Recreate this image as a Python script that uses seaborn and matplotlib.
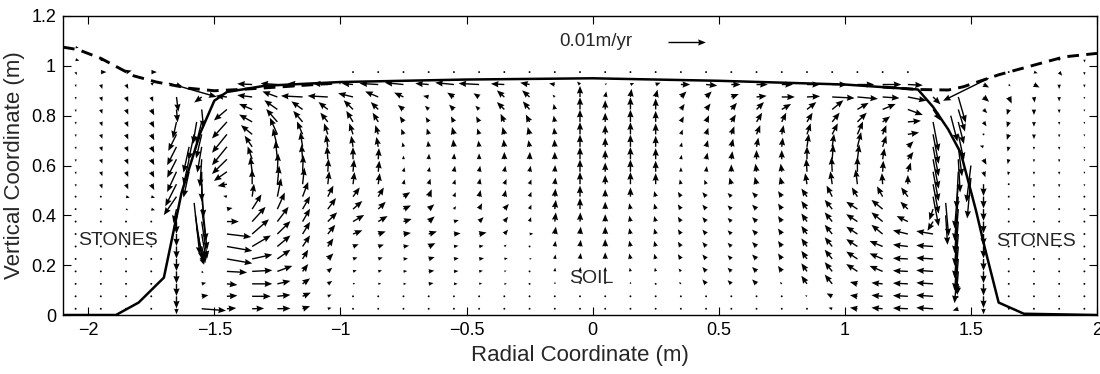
import numpy as np
import matplotlib
matplotlib.use("Agg")
import matplotlib.pyplot as plt
import seaborn as sns

# ---------------- data ----------------
X_NODES = [-2.05, -1.95, -1.85, -1.75, -1.65, -1.55, -1.45, -1.35, -1.25, -1.15, -1.05,
           -0.95, -0.85, -0.75, -0.65, -0.55, -0.45, -0.35, -0.25, -0.15, -0.05,
           0.05, 0.15, 0.25, 0.35, 0.45, 0.55, 0.65, 0.75, 0.85, 0.95,
           1.05, 1.15, 1.25, 1.35, 1.45, 1.55, 1.65, 1.75, 1.85, 1.95]
Y_NODES = [1.075, 1.025, 0.975, 0.925, 0.875, 0.825, 0.775, 0.725, 0.675, 0.625, 0.575,
           0.525, 0.475, 0.425, 0.375, 0.325, 0.275, 0.225, 0.175, 0.125, 0.075, 0.025]

# velocities in mm/yr, rows top -> bottom, left half (x = -2.05 ... -0.05)
U_LEFT = [
    [0.8, 0, 0, 0, 0, 0, 0, 0, 0, 0, 0, 0, 0, 0, 0, 0, 0, 0, 0, 0, 0],
    [1.0, 0.8, 0, 0, 0, 0, 0, 0, 0, 0, 0, 0, 0, 0, 0, 0, 0, 0, 0, 0, 0],
    [0.3, 1.5, 1.5, 1.5, 0, 0, 0, 0, 0, 0, 0, 0.2, 0.3, 0.3, 0.3, 0.3, 0.3, 0.3, 0.3, 0.2, 0.2],
    [0.1, 0.4, 0.6, 0.8, 1.5, 0, 0, -4, -4.5, -4, -4, -3, -5, -5, -3.6, -5, -5.5, -3.6, -2.5, -1.5, -0.8],
    [0.1, 0.4, 0.6, 0.5, 0.5, -2, -3, -4, -4, -5.8, -5.4, -4, -3.5, -2.5, -1.5, -1.8, -1.5, -2, -2, -0.6, 0],
    [0.1, 0.4, 0.6, 0.8, 0.3, 0.5, -3.5, -3.5, -3.5, -3, -2.5, -2.5, -2, -1.5, -1, -1.3, -1, -2, -1.8, -0.3, 0],
    [0.1, 0.4, 0.6, 0.8, -1, -1.5, -4, -3.5, -3, -2.5, -2, -1.8, -1.5, -1, -0.8, -0.8, -0.8, -1, -1, -0.3, 0],
    [0.1, 0.4, 0.6, 0.8, -2.2, -1.5, -4, -3, -2, -1.5, -1, -1, -0.8, -0.6, -0.5, -0.5, -0.5, -0.5, -0.5, -0.2, 0],
    [0.1, 0.4, 0.6, 0.8, -2.5, -1.2, -4, -2, -1.2, -0.6, -0.5, -0.5, -0.5, -0.3, -0.2, -0.2, -0.2, -0.2, -0.3, -0.1, 0],
    [0.1, 0.4, 0.6, 0.8, -2.5, -0.5, -4, -1.2, -0.5, -0.3, -0.2, 0, 0.2, 0, 0.1, 0.1, 0, 0, 0.1, 0, 0],
    [0.1, 0.4, 0.6, 0.8, -2.5, 0, -3.5, -0.5, 0.2, 0.2, 0.2, 0.3, 0.3, 0.3, 0.3, 0.3, 0.3, 0.3, 0.3, 0.1, 0],
    [0.1, 0.4, 0.6, 0.8, -3, 0.5, -2.5, 0, 0.5, 0.5, 0.4, 0.4, 0.4, 0.3, 0.5, 0.4, 0.3, 0.6, 0.5, 0.2, 0],
    [0.1, 0.1, 1, 1, -3.4, 1.2, -1, 0.5, 1, 1.5, 1.5, 1.8, 1.5, 1.8, 0.8, 0.5, 0.4, 0.4, 0.5, 0.2, 0],
    [0.1, 0.1, 0.6, 1, -0.8, 1.5, 1.5, 2.5, 2, 2, 2.2, 2.5, 2, 2, 1.5, 0.6, 0.8, 1.2, 0.5, 0.3, 0],
    [0.1, 0.1, 0.1, 0.5, 0, 1.5, 3.2, 3.6, 3, 2, 2.5, 3, 2.5, 2.2, 1.6, 1.3, 1.2, 1, 0.4, 0.3, 0.1],
    [0.1, 0.1, 0.1, 0.1, 0, 1.2, 6.5, 4.5, 3.5, 2, 2, 2.5, 2, 2, 2.2, 1.8, 2, 1, 1, 0.3, 0.2],
    [0.1, 0.1, 0.1, 0.1, 0, 1, 6.8, 5, 3.5, 2, 1.5, 1.5, 1.5, 1.5, 1.8, 1.2, 1.2, 0.6, 0.5, 0.2, 0.2],
    [0.1, 0.1, 0.1, 0.1, 0, 0.5, 6.8, 5.4, 3.5, 1.5, 1.5, 1.2, 1.2, 1.2, 1.6, 1.3, 1.3, 0.9, 0.6, 0.2, 0.2],
    [0.1, 0.1, 0.1, 0.1, 0, 0.5, 5.4, 5.4, 4, 1.5, 1.2, 1, 1, 1, 1.5, 1.2, 1, 0.6, 0.5, 0.1, 0.1],
    [0.1, 0.1, 0.1, 0.1, 0, 1.2, 2.8, 5.4, 3.5, 2, 1.2, 0.6, 0.8, 0.8, 1.3, 1, 0.8, 0.7, 0.4, 0.1, 0.05],
    [0.1, 0.1, 0.1, 0.1, 0, 1.8, 2.8, 5, 3.5, 2.2, 1, 0.5, 0.3, 0.5, 0.4, 0.4, 0.4, 0.3, 0.2, 0.1, 0],
    [0.1, 0.1, 0.1, 0.1, 0, 6.5, 2.5, 3.2, 3.5, 2, 1, 0.3, 0.2, 0.2, 0.2, 0.2, 0.2, 0.2, 0.2, 0.1, 0],
]
V_LEFT = [
    [-0.2, 0, 0, 0, 0, 0, 0, 0, 0, 0, 0, 0, 0, 0, 0, 0, 0, 0, 0, 0, 0],
    [-0.3, -0.4, 0, 0, 0, 0, 0, 0, 0, 0, 0, 0, 0, 0, 0, 0, 0, 0, 0, 0, 0],
    [-0.8, 0, 0.4, 0, 0, 0, 0, 0, 0, 0, 0, 0, 0, 0, 0, 0, 0, 0, 0, 0, -0.2],
    [-0.7, -1.2, -1.2, 0.6, -0.5, 0, 0, 0.2, 0.3, 0.3, 0.3, 0.3, 0.3, 0.5, 0.3, 0.5, 0.3, 0.2, 0.5, 0.3, 0.8],
    [-0.7, -1.2, -1.4, -1.3, -4, -1.5, 0.3, 0.5, 1.5, 0.3, 0.3, 1, 1.5, 1.2, 0.3, 1.2, 1, 1.8, 1.8, 0.6, 3],
    [-0.7, -1.2, -1.4, -1.6, -3.5, -5, -3, 1.5, 2.5, 2.2, 2, 2.5, 2, 1.2, 1, 1.3, 1, 2, 2.2, 1.5, 3.3],
    [-0.7, -1.2, -1.4, -1.6, -4.5, -6, -4.5, 2, 3.5, 3, 2.5, 3, 2.5, 1.5, 1.3, 1.5, 1.5, 2.2, 2, 1.7, 3.3],
    [-0.7, -1.2, -1.4, -1.6, -4.5, -6.5, -5, 2.5, 4.5, 3.5, 3, 3, 2.5, 1.5, 1.6, 2, 1.6, 2, 2, 1.8, 3.3],
    [-0.7, -1.2, -1.4, -1.6, -5, -7, -5, 3, 5, 4, 3.3, 3, 2.7, 1.2, 1.6, 2, 1.7, 2, 1.8, 2, 3.3],
    [-0.7, -1.2, -1.4, -1.6, -5, -7.5, -4, 3.5, 5, 4, 3.5, 3.3, 3, 1, 1.5, 1.6, 1.6, 2, 2, 2, 3.3],
    [-0.7, -1.2, -1.4, -1.6, -5.5, -8, -2.5, 4, 5, 4.5, 3.5, 3.3, 3, 1.2, 1.3, 1.6, 1.6, 1.6, 1.6, 1.8, 3.3],
    [-0.7, -1.2, -1.4, -1.6, -6, -9, -0.5, 4, 5, 4.5, 3.5, 3.3, 3, 1.3, 1.5, 1.3, 1.6, 1.4, 1.3, 1.8, 3.3],
    [-0.3, -0.3, -0.3, -0.3, -5, -12, 0.2, 3.5, 5, 4, 3, 2.5, 2.5, 1.2, 2, 1.2, 1.8, 1.8, 1.3, 2.2, 3],
    [-0.3, -0.3, -0.3, -0.3, -3.8, -11, 0.3, 4, 4.5, 3.5, 3, 2.2, 2, 1, 1.3, 0.8, 1.6, 1.4, 1.2, 2.5, 3],
    [-0.3, -0.3, -0.3, -0.2, -3.3, -10, 0, 4, 4, 3.5, 2.5, 1.8, 1.5, 0.7, 1.4, 0.4, 1.2, 1.3, 1.2, 2.5, 2.5],
    [-0.3, -0.3, -0.3, -0.2, -3.3, -7, -0.8, 4, 3.5, 3.3, 2.5, 1, 0.7, 0.3, 0.7, 0.2, 0.4, 1.2, 0.1, 2, 2],
    [-0.3, -0.3, -0.3, -0.2, -3.3, -4.5, -1.2, 3, 3, 3, 2.2, 0.6, 0.5, 0.2, 0.9, 0.2, 0.2, 0.5, 0.2, 1.5, 1.8],
    [-0.3, -0.3, -0.3, -0.2, -3.3, -1.5, -1.2, 1.2, 2.5, 2.5, 1.5, 0.4, 0.4, 0.1, 0.5, 0.2, 0.2, 0.2, 0.1, 1.2, 1.6],
    [-0.3, -0.3, -0.3, -0.2, -3.3, -0.5, -0.3, 0.3, 1.5, 2, 1, 0.3, 0.3, 0.1, 0.2, 0.1, 0.2, 0.2, 0.1, 1, 1.2],
    [-0.3, -0.3, -0.3, -0.2, -3.3, 0.3, -0.3, 0, 0.8, 1.5, 0.8, 0.2, 0.1, 0, 0.2, 0, 0.2, 0, 0, 0.6, 0.8],
    [-0.3, -0.3, -0.3, -0.2, -3.3, 0.3, 0.2, 0, 0.4, 1, 0.5, 0.1, 0, 0, 0, 0, 0, 0, 0, 0.3, 0.4],
    [-0.3, -0.3, -0.3, -0.2, -1.5, -0.5, 0.2, 0.1, 0.1, 0.7, 0.3, 0.1, 0, 0, 0, 0, 0, 0, 0, 0, 0.2],
]
# right half (x = 0.05 ... 1.95)
U_RIGHT = [
    [0, 0, 0, 0, 0, 0, 0, 0, 0, 0, 0, 0, 0, 0, 0, 0, 0, 0, 0, 0],
    [0, 0, 0, 0, 0, 0, 0, 0, 0, 0, 0, 0, 0, 0, 0, 0, 0, 0, 0.3, 0.1],
    [0.2, 0.3, 0.3, 0.3, 0.3, 0.3, 0.3, 0.3, 0.3, 0.3, 0.3, 0.3, 0.3, 0, 0, 0, 0.3, 1, 0.8, 0],
    [0.5, 1, 1.3, 2.5, 3, 2.5, 3, 3, 3.5, 4, 4.5, 5, 4, 0, 0, 1.5, 0.5, 1.5, 0, 0],
    [0.3, 0.3, 0.5, 1.5, 1.5, 2, 2.7, 3.5, 3.5, 6, 5.5, 4.5, 5, 2, 2, 1.5, 0.8, 0.2, 0, 0],
    [0, 0, 0, 1, 1.2, 1.5, 2, 2.5, 2.5, 3, 3, 3.5, 4, 2, 1.8, 1, -0.5, 0, 0, 0],
    [0, 0, 0, 0.8, 0.8, 1.2, 1.5, 1.2, 1.5, 2, 2.5, 2, 3.5, 1.5, 1.5, 0.8, -0.5, 0, 0, 0],
    [0, 0, 0, 0.5, 0.6, 0.8, 1, 0.5, 1, 1.5, 1.5, 1, 3, 1.5, 1.5, -0.5, -0.5, 0, 0, 0],
    [0, 0, 0, 0.3, 0.5, 0.5, 0.5, 0.3, 0.5, 0.5, 1, 1, 1.5, 1.5, 1, -1, -0.3, 0, 0, 0],
    [0, 0, 0, 0.2, 0.4, 0.3, 0, 0, 0, 0.3, 0.5, 0.5, 1.5, 1.5, 0.5, 0.8, -0.3, 0, 0, 0],
    [0, 0, 0, 0, 0.2, 0, -0.3, -0.3, -0.2, -0.2, 0, 0.2, 0.8, 1.5, -0.5, 0.5, -0.2, 0, 0, 0],
    [0, 0, 0, -0.3, -0.5, -0.5, -0.5, -0.5, -0.5, -0.5, -0.5, -0.2, 0, 1.5, -1, 0, 0, 0, 0, 0],
    [0, 0, -0.4, -0.8, -1, -1, -1.2, -1, -1.5, -1.5, -1.5, -1.5, -1.8, 1.5, -1, 0, 0, 0, 0, 0],
    [0, -0.3, -0.4, -0.8, -1, -1, -1.2, -1, -1.5, -2, -3, -3, -2, -1, -1, 0, 0, 0, 0, 0],
    [0, -0.3, -0.4, -0.8, -1, -1, -1.2, -1, -1.5, -2, -3, -3, -3, -1.5, -1, 0, 0, 0, 0, 0],
    [0, -0.3, -0.4, -0.8, -1, -1, -1.2, -1, -1.5, -2, -3, -3, -4, -4.5, -1, 0, 0, 0, 0, 0],
    [0, -0.3, -0.4, -0.8, -1, -1, -1.2, -1, -1.5, -2, -3, -3.5, -4, -4.5, -1, 0, 0, 0, 0, 0],
    [0, -0.3, -0.4, -0.8, -1, -1, -1.2, -1, -1.5, -2, -3, -3.5, -4, -4.5, -1, 0, 0, 0, 0, 0],
    [0, -0.2, -0.2, -0.6, -1, -1, -1.2, -1, -1.5, -2, -3, -3.5, -4, -4.5, -0.5, 0, 0, 0, 0, 0],
    [0, 0, 0, -0.5, -1, -1, -1.2, -0.5, -1.5, -2, -2, -3, -4, -4.5, -0.3, 0, 0, 0, 0, 0],
    [0, 0, 0, -0.2, -0.3, -0.3, -0.2, -0.3, -0.5, -1.5, -2, -3, -4, -4.5, -0.5, 0, 0, 0, 0, 0],
    [0, 0, 0, -0.1, -0.1, -0.1, -0.1, -0.2, -0.3, -1, -2, -3, -4, -4.5, -1.5, 0, 0, 0, 0, 0],
]
V_RIGHT = [
    [0, 0, 0, 0, 0, 0, 0, 0, 0, 0, 0, 0, 0, 0, 0, 0, 0, 0, 0, 0],
    [0, 0, 0, 0, 0, 0, 0, 0, 0, 0, 0, 0, 0, 0, 0, 0, 0, 0, -0.3, -0.8],
    [0, 0, 0, 0, 0, 0, 0, 0, 0, 0, 0, 0, 0, 0, 0, 0, -0.2, -0.3, -1, -0.8],
    [0.3, 0.4, 0.5, 0, -0.3, 0, 0, 0, 0, 0, 0, 0, -0.2, 0, 0, -0.8, -0.5, -0.8, -1.2, -0.8],
    [1.5, 2.2, 2, 1.5, 1.5, 0.8, 0.3, 0, 0.2, -0.3, -0.5, -0.3, -1, -2, -7, -1.3, -1.8, -1.5, -1.2, -0.6],
    [2.5, 3.3, 3, 1.5, 1.6, 1.8, 2, 1.5, 2, 2.5, 1.8, 1.5, -1.5, -3, -6, -1, -1.5, -1.5, -1, -0.6],
    [2.5, 3.3, 3, 1.5, 1.8, 2, 2.5, 2.5, 2.5, 2.5, 2.5, 1.5, 0.3, -8, -6, -1.2, -1.5, -1.3, -0.8, -0.6],
    [2.5, 3.3, 3, 1.3, 1.8, 2.2, 2.5, 2.5, 3, 3, 3.5, 2.5, 0.5, -8, -7, 0.2, -1.5, -1.3, -0.8, -0.6],
    [2.5, 3.3, 3, 1.2, 1.8, 2.2, 2.5, 2.5, 3.5, 3.5, 4, 3, 1.5, -8, -8, 0.3, -1.3, -0.8, -0.8, -0.6],
    [2.5, 3.3, 3, 1.2, 1.8, 2.2, 2.5, 2.5, 3.5, 4, 4, 3, 2, -8, -9, -1.5, -1.3, -0.8, -0.8, -0.6],
    [2.5, 3.3, 3, 1.2, 1.5, 2, 2.2, 2.2, 3.5, 4, 4, 3, 2.5, -8, -10, -1.5, -1, -0.8, -0.8, -0.6],
    [2.5, 3.3, 3, 1.3, 1.2, 1.8, 2, 2, 3, 3.5, 4, 3, 2.5, -8, -12, -3.2, -0.5, -0.8, -0.8, -0.6],
    [2, 2.5, 1.5, 1.3, 1.2, 1, 1.2, 1.5, 2.2, 3, 2.5, 2.8, 2.5, -8, -12, -3.2, -0.3, -0.3, -0.3, -0.3],
    [2, 1.6, 1.5, 1.3, 1.2, 1, 1.2, 1.5, 2.2, 2.5, 2, 2.5, 2, -3, -12, -3.2, -0.3, -0.3, -0.3, -0.3],
    [2, 1.6, 1.5, 1.3, 1.2, 1, 1.2, 1.5, 2.2, 2.5, 2, 2.5, 1.5, -2.5, -12, -3.2, -0.3, -0.3, -0.3, -0.3],
    [2, 1.6, 1.5, 1.3, 1.2, 1, 1.2, 1.5, 2.2, 2.5, 2, 2.5, 1, 0.8, -12, -3.2, -0.3, -0.3, -0.3, -0.3],
    [2, 1.6, 1.5, 1.3, 1.2, 1, 1.2, 1.5, 2.2, 2.5, 2, 1.5, 0.5, 0.3, -12, -3.2, -0.3, -0.3, -0.3, -0.3],
    [1.8, 1.5, 1.4, 1.3, 1.2, 1, 1.2, 1.5, 2.2, 2.5, 2, 1.5, 0.2, 0.3, -12, -3.2, -0.3, -0.3, -0.3, -0.3],
    [1.2, 1, 1, 0.8, 1.2, 1, 1.2, 1.5, 2.2, 2.5, 2, 1.5, 0.2, 0.3, -6, -3.2, -0.3, -0.3, -0.3, -0.3],
    [0.8, 0.6, 0.5, 0.5, 1.2, 1, 1.2, 0.5, 2.2, 2.5, 0.5, 0.3, 0.2, 0.3, -3, -3.2, -0.3, -0.3, -0.3, -0.3],
    [0.5, 0.3, 0.3, 0.3, 0.2, 0.2, 0.2, 0.2, 0.3, 0.8, 0.3, 0.3, 0.2, 0.3, -0.5, -3.2, -0.3, -0.3, -0.3, -0.3],
    [0.2, 0.1, 0.1, 0.1, 0.1, 0.1, 0.1, 0, 0, 0.3, 0.3, 0.3, 0.2, 0.3, -0.5, -1.5, -0.3, -0.3, -0.3, -0.3],
]
# extra vectors from the refined mesh along the soil/stone interface
EXTRA_X = [-1.68, -1.60, -1.60, -1.60, -1.58, -1.57, -1.58, -1.575, -1.57, 1.57, 1.40, 1.40, 1.50, 1.50, 1.42]
EXTRA_Y = [0.93, 0.575, 0.625, 0.675, 0.725, 0.775, 0.45, 0.40, 0.35, 0.95, 0.45, 0.40, 0.55, 0.60, 0.80]
EXTRA_U = [12.8, -1.5, -1.5, -1.5, -1.5, -1, 1.5, 1.8, 2, -12.2, 0.8, 0.5, -1, -1.2, 1.8]
EXTRA_V = [-3.7, -7, -7, -7, -7, -6, -14, -12, -10, -6.1, -9, -8, -11, -10, -7]

# soil/stone interface (solid) and free surface of stones (dashed)
SOLID_X = [-2.1, -1.89, -1.80, -1.70, -1.63, -1.556, -1.50, -1.45, -1.30, -1.0, -0.5, 0.0,
           0.5, 1.0, 1.29, 1.35, 1.41, 1.46, 1.52, 1.555, 1.61, 1.71, 2.0]
SOLID_Y = [0, 0, 0.05, 0.15, 0.49, 0.73, 0.86, 0.895, 0.92, 0.935, 0.945, 0.95,
           0.94, 0.925, 0.905, 0.835, 0.745, 0.65, 0.42, 0.27, 0.05, 0.005, 0]
DASH_L_X = [-2.1, -2.04, -1.95, -1.82, -1.73, -1.6, -1.5, -1.4, -1.2, -1.0]
DASH_L_Y = [1.075, 1.065, 1.03, 0.96, 0.935, 0.91, 0.9, 0.905, 0.918, 0.932]
DASH_R_X = [1.15, 1.29, 1.41, 1.47, 1.61, 1.74, 1.87, 2.0]
DASH_R_Y = [0.915, 0.905, 0.903, 0.916, 0.964, 1.0, 1.036, 1.05]

X_TICKS = [-2, -1.5, -1, -0.5, 0, 0.5, 1, 1.5, 2]
X_TICKLABELS = ["\u22122", "\u22121.5", "\u22121", "\u22120.5", "0", "0.5", "1", "1.5", "2"]
Y_TICKS = [0, 0.2, 0.4, 0.6, 0.8, 1.0, 1.2]
Y_TICKLABELS = ["0", "0.2", "0.4", "0.6", "0.8", "1", "1.2"]

KEY_VALUE = 10.0          # mm/yr -> 0.01 m/yr
KEY_LABEL = "0.01m/yr"

# ---------------- style ----------------
sns.set_theme(style="ticks")
plt.rcParams["font.family"] = ["Liberation Sans", "DejaVu Sans"]
plt.rcParams["axes.unicode_minus"] = True

fig = plt.figure(figsize=(11, 3.74), dpi=100)
ax = fig.add_axes([63 / 1100, 59 / 374, 1034 / 1100, 299 / 374])

# grid of vectors
U = np.hstack([np.array(U_LEFT, float), np.array(U_RIGHT, float)])
V = np.hstack([np.array(V_LEFT, float), np.array(V_RIGHT, float)])
XX, YY = np.meshgrid(np.array(X_NODES), np.array(Y_NODES))
x = np.concatenate([XX.ravel(), EXTRA_X])
y = np.concatenate([YY.ravel(), EXTRA_Y])
u = np.concatenate([U.ravel(), EXTRA_U])
v = np.concatenate([V.ravel(), EXTRA_V])
keep = (u != 0) | (v != 0)

scale = KEY_VALUE / 0.148   # 0.01 m/yr drawn as 0.148 m
Q = ax.quiver(x[keep], y[keep], u[keep], v[keep], angles="xy", scale_units="xy",
              scale=scale, color="black", width=0.00135, headwidth=4.5,
              headlength=5.5, headaxislength=5, minlength=1.5, zorder=3)

sns.lineplot(x=SOLID_X, y=SOLID_Y, sort=False, estimator=None, color="black",
             linewidth=1.8, ax=ax, zorder=4)
sns.lineplot(x=DASH_L_X, y=DASH_L_Y, sort=False, estimator=None, color="black",
             linewidth=2.1, linestyle=(0, (4, 2.5)), ax=ax, zorder=4)
sns.lineplot(x=DASH_R_X, y=DASH_R_Y, sort=False, estimator=None, color="black",
             linewidth=2.1, linestyle=(0, (4, 2.5)), ax=ax, zorder=4)

ax.quiverkey(Q, 0.30, 1.097, KEY_VALUE, KEY_LABEL, labelpos="W", coordinates="data",
             labelsep=0.36, fontproperties={"size": 13.5})

ax.text(-1.883, 0.298, "STONES", ha="center", va="center", fontsize=14)
ax.text(1.758, 0.294, "STONES", ha="center", va="center", fontsize=14)
ax.text(-0.006, 0.148, "SOIL", ha="center", va="center", fontsize=14)

ax.set_xlim(-2.1, 2.0)
ax.set_ylim(0, 1.2)
ax.set_xticks(X_TICKS)
ax.set_xticklabels(X_TICKLABELS)
ax.set_yticks(Y_TICKS)
ax.set_yticklabels(Y_TICKLABELS)
ax.tick_params(direction="in", top=True, right=True, length=5.5, width=0.8,
               labelsize=13, colors="black", pad=5)
for s in ax.spines.values():
    s.set_visible(True)
    s.set_linewidth(1.0)
    s.set_color("black")
ax.set_xlabel("Radial Coordinate (m)", fontsize=16, labelpad=4)
ax.set_ylabel("Vertical Coordinate (m)", fontsize=16, labelpad=4)
ax.set_facecolor("white")
fig.patch.set_facecolor("white")

fig.savefig("out.png", dpi=100, facecolor="white")
